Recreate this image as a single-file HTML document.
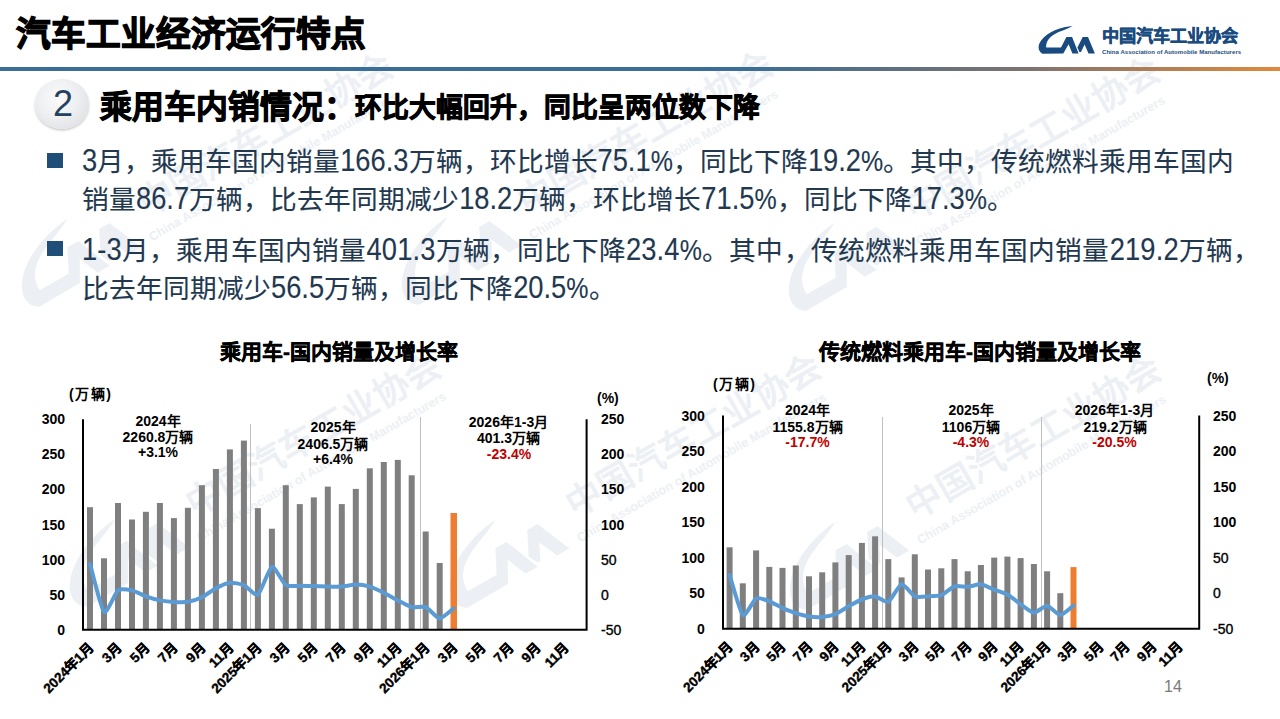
<!DOCTYPE html>
<html lang="zh-CN">
<head>
<meta charset="utf-8">
<style>
html,body{margin:0;padding:0;}
body{width:1280px;height:719px;position:relative;overflow:hidden;background:#fff;font-family:"Liberation Sans",sans-serif;}
.abs{position:absolute;white-space:nowrap;}
#title{left:16px;top:13.5px;font-size:34.6px;font-weight:bold;color:#000;line-height:40px;-webkit-text-stroke:1.3px #000;}
#rule{left:0;top:67px;width:1280px;height:3.5px;background:linear-gradient(90deg,#3a6e96 0%,#3a6e96 58%,#7d7270 80%,#e08a3c 100%);}
#orgname{left:1102px;top:25.5px;font-size:17.2px;font-weight:bold;color:#1a4b80;-webkit-text-stroke:0.5px #1a4b80;line-height:20px;}
#orgen{left:1102px;top:48px;font-size:6px;font-weight:bold;color:#1a4b80;line-height:8px;letter-spacing:0.05px;}
#circ{left:35px;top:79px;width:54px;height:49.5px;border-radius:50%;background:radial-gradient(ellipse at 42% 38%,#fbfbfc 0%,#eeeff1 45%,#e2e3e6 75%,#c3c6ca 100%);box-shadow:0 1.5px 2.5px rgba(0,0,0,0.22);}
#num{left:36px;top:79.5px;width:54px;height:48px;text-align:center;font-size:36px;line-height:48px;color:#24425f;}
#h2a{left:100px;top:84.5px;font-size:31.8px;font-weight:bold;color:#000;line-height:44px;-webkit-text-stroke:1px #000;}
#h2b{left:355px;top:88px;font-size:26.8px;font-weight:bold;color:#000;line-height:40px;-webkit-text-stroke:0.9px #000;}
.bul{width:16px;height:15px;background:#1f4e79;}
.tx{font-size:26.67px;color:#22384f;line-height:36px;-webkit-text-stroke:0.1px #22384f;}
.l{font-size:27.3px;display:inline-block;transform:scaleY(1.17);transform-origin:50% 76%;}
.p{font-size:25px;display:inline-block;transform:scaleY(1.17);transform-origin:50% 76%;}
.tk{font-family:"Liberation Sans",sans-serif;font-size:14px;font-weight:bold;fill:#000;}
.xl{font-family:"Liberation Sans",sans-serif;font-size:13.5px;font-weight:bold;fill:#000;stroke:#000;stroke-width:0.4px;}
.ct{font-family:"Liberation Sans",sans-serif;font-size:21px;font-weight:bold;fill:#000;stroke:#000;stroke-width:0.45px;}
.an{font-family:"Liberation Sans",sans-serif;font-size:14px;font-weight:bold;fill:#000;}
.tkn{font-weight:normal;stroke:#000;stroke-width:0.35px;}
.ar{fill:#c00000;}
#pg{left:1164px;top:678px;font-size:16px;color:#7a7a7a;}
svg{position:absolute;left:0;top:0;}
</style>
</head>
<body>
<svg width="1280" height="719" style="z-index:0;font-family:'Liberation Sans',sans-serif" fill="#ecf0f4">
<g transform="translate(150,238) rotate(-30)"><text x="8" y="-20" style="font-size:35.5px;font-weight:bold">中国汽车工业协会</text><text x="0" y="4" style="font-size:12.5px;font-weight:bold">China Association of Automobile Manufacturers</text><g transform="translate(-62,-58) scale(2.25) translate(-1072.7,-26.1)"><path d="M1072.7,26.1 C1062,26.8 1048,31.5 1041.5,40 C1037.5,45 1037.5,51 1042.4,53.7 L1063.3,53.6 L1068.6,44.3 L1072.4,53.6 L1078.6,53.6 L1072.1,37.1 L1066.4,37.1 L1061,47.5 L1046.2,47.5 C1045.8,42 1049,37.5 1054,34.5 C1060,31 1067,29.5 1072.7,26.1 Z"/><path d="M1077.4,47.6 L1082.7,37.1 L1088,37.1 L1094.9,53.6 L1088.5,53.6 L1084.6,44.6 L1081,51.9 L1079.4,51.9 Z"/></g></g>
<g transform="translate(530,236) rotate(-30)"><text x="8" y="-20" style="font-size:35.5px;font-weight:bold">中国汽车工业协会</text><text x="0" y="4" style="font-size:12.5px;font-weight:bold">China Association of Automobile Manufacturers</text><g transform="translate(-62,-58) scale(2.25) translate(-1072.7,-26.1)"><path d="M1072.7,26.1 C1062,26.8 1048,31.5 1041.5,40 C1037.5,45 1037.5,51 1042.4,53.7 L1063.3,53.6 L1068.6,44.3 L1072.4,53.6 L1078.6,53.6 L1072.1,37.1 L1066.4,37.1 L1061,47.5 L1046.2,47.5 C1045.8,42 1049,37.5 1054,34.5 C1060,31 1067,29.5 1072.7,26.1 Z"/><path d="M1077.4,47.6 L1082.7,37.1 L1088,37.1 L1094.9,53.6 L1088.5,53.6 L1084.6,44.6 L1081,51.9 L1079.4,51.9 Z"/></g></g>
<g transform="translate(917,242) rotate(-30)"><text x="8" y="-20" style="font-size:35.5px;font-weight:bold">中国汽车工业协会</text><text x="0" y="4" style="font-size:12.5px;font-weight:bold">China Association of Automobile Manufacturers</text><g transform="translate(-62,-58) scale(2.25) translate(-1072.7,-26.1)"><path d="M1072.7,26.1 C1062,26.8 1048,31.5 1041.5,40 C1037.5,45 1037.5,51 1042.4,53.7 L1063.3,53.6 L1068.6,44.3 L1072.4,53.6 L1078.6,53.6 L1072.1,37.1 L1066.4,37.1 L1061,47.5 L1046.2,47.5 C1045.8,42 1049,37.5 1054,34.5 C1060,31 1067,29.5 1072.7,26.1 Z"/><path d="M1077.4,47.6 L1082.7,37.1 L1088,37.1 L1094.9,53.6 L1088.5,53.6 L1084.6,44.6 L1081,51.9 L1079.4,51.9 Z"/></g></g>
<g transform="translate(198,538) rotate(-30)"><text x="8" y="-20" style="font-size:35.5px;font-weight:bold">中国汽车工业协会</text><text x="0" y="4" style="font-size:12.5px;font-weight:bold">China Association of Automobile Manufacturers</text><g transform="translate(-62,-58) scale(2.25) translate(-1072.7,-26.1)"><path d="M1072.7,26.1 C1062,26.8 1048,31.5 1041.5,40 C1037.5,45 1037.5,51 1042.4,53.7 L1063.3,53.6 L1068.6,44.3 L1072.4,53.6 L1078.6,53.6 L1072.1,37.1 L1066.4,37.1 L1061,47.5 L1046.2,47.5 C1045.8,42 1049,37.5 1054,34.5 C1060,31 1067,29.5 1072.7,26.1 Z"/><path d="M1077.4,47.6 L1082.7,37.1 L1088,37.1 L1094.9,53.6 L1088.5,53.6 L1084.6,44.6 L1081,51.9 L1079.4,51.9 Z"/></g></g>
<g transform="translate(578,539) rotate(-30)"><text x="8" y="-20" style="font-size:35.5px;font-weight:bold">中国汽车工业协会</text><text x="0" y="4" style="font-size:12.5px;font-weight:bold">China Association of Automobile Manufacturers</text><g transform="translate(-62,-58) scale(2.25) translate(-1072.7,-26.1)"><path d="M1072.7,26.1 C1062,26.8 1048,31.5 1041.5,40 C1037.5,45 1037.5,51 1042.4,53.7 L1063.3,53.6 L1068.6,44.3 L1072.4,53.6 L1078.6,53.6 L1072.1,37.1 L1066.4,37.1 L1061,47.5 L1046.2,47.5 C1045.8,42 1049,37.5 1054,34.5 C1060,31 1067,29.5 1072.7,26.1 Z"/><path d="M1077.4,47.6 L1082.7,37.1 L1088,37.1 L1094.9,53.6 L1088.5,53.6 L1084.6,44.6 L1081,51.9 L1079.4,51.9 Z"/></g></g>
<g transform="translate(918,541) rotate(-30)"><text x="8" y="-20" style="font-size:35.5px;font-weight:bold">中国汽车工业协会</text><text x="0" y="4" style="font-size:12.5px;font-weight:bold">China Association of Automobile Manufacturers</text><g transform="translate(-62,-58) scale(2.25) translate(-1072.7,-26.1)"><path d="M1072.7,26.1 C1062,26.8 1048,31.5 1041.5,40 C1037.5,45 1037.5,51 1042.4,53.7 L1063.3,53.6 L1068.6,44.3 L1072.4,53.6 L1078.6,53.6 L1072.1,37.1 L1066.4,37.1 L1061,47.5 L1046.2,47.5 C1045.8,42 1049,37.5 1054,34.5 C1060,31 1067,29.5 1072.7,26.1 Z"/><path d="M1077.4,47.6 L1082.7,37.1 L1088,37.1 L1094.9,53.6 L1088.5,53.6 L1084.6,44.6 L1081,51.9 L1079.4,51.9 Z"/></g></g>
</svg>
<div id="title" class="abs">汽车工业经济运行特点</div>
<div id="rule" class="abs"></div>
<svg width="1280" height="719" style="z-index:1">
<path d="M1072.7,26.1 C1062,26.8 1048,31.5 1041.5,40 C1037.5,45 1037.5,51 1042.4,53.7 L1063.3,53.6 L1068.6,44.3 L1072.4,53.6 L1078.6,53.6 L1072.1,37.1 L1066.4,37.1 L1061,47.5 L1046.2,47.5 C1045.8,42 1049,37.5 1054,34.5 C1060,31 1067,29.5 1072.7,26.1 Z" fill="#1a4b80"/>
<path d="M1077.4,47.6 L1082.7,37.1 L1088,37.1 L1094.9,53.6 L1088.5,53.6 L1084.6,44.6 L1081,51.9 L1079.4,51.9 Z" fill="#1a4b80"/>
</svg>
<div id="orgname" class="abs">中国汽车工业协会</div>
<div id="orgen" class="abs">China Association of Automobile Manufacturers</div>
<div id="circ" class="abs"></div>
<div id="num" class="abs">2</div>
<div id="h2a" class="abs">乘用车内销情况：</div>
<div id="h2b" class="abs">环比大幅回升，同比呈两位数下降</div>
<div class="abs bul" style="left:47px;top:153px"></div>
<div class="abs tx" style="left:82px;top:144px"><span class="l">3</span>月，乘用车国内销量<span class="l">166.3</span>万辆，环比增长<span class="l">75.1</span><span class="p">%</span>，同比下降<span class="l">19.2</span><span class="p">%</span>。其中，传统燃料乘用车国内</div>
<div class="abs tx" style="left:82px;top:182px">销量<span class="l">86.7</span>万辆，比去年同期减少<span class="l">18.2</span>万辆，环比增长<span class="l">71.5</span><span class="p">%</span>，同比下降<span class="l">17.3</span><span class="p">%</span>。</div>
<div class="abs bul" style="left:47px;top:241px"></div>
<div class="abs tx" style="left:82px;top:232.5px;letter-spacing:0.17px"><span class="l">1-3</span>月，乘用车国内销量<span class="l">401.3</span>万辆，同比下降<span class="l">23.4</span><span class="p">%</span>。其中，传统燃料乘用车国内销量<span class="l">219.2</span>万辆，</div>
<div class="abs tx" style="left:82px;top:270.5px">比去年同期减少<span class="l">56.5</span>万辆，同比下降<span class="l">20.5</span><span class="p">%</span>。</div>
<svg width="1280" height="719" style="z-index:2">
<text x="339" y="359" text-anchor="middle" class="ct">乘用车-国内销量及增长率</text>
<text x="980" y="359" text-anchor="middle" class="ct">传统燃料乘用车-国内销量及增长率</text>
<text x="69" y="399" class="an" style="letter-spacing:1.5px">(万辆)</text>
<text x="597" y="403" class="an">(%)</text>
<text x="713" y="389" class="an" style="letter-spacing:1.5px">(万辆)</text>
<text x="1207" y="383" class="an">(%)</text>
<text x="158" y="426" text-anchor="middle" class="an">2024年</text>
<text x="158" y="441.5" text-anchor="middle" class="an">2260.8万辆</text>
<text x="158" y="456.5" text-anchor="middle" class="an">+3.1%</text>
<text x="333" y="431.5" text-anchor="middle" class="an">2025年</text>
<text x="333" y="448.5" text-anchor="middle" class="an">2406.5万辆</text>
<text x="333" y="463.5" text-anchor="middle" class="an">+6.4%</text>
<text x="508.5" y="426.5" text-anchor="middle" class="an">2026年1-3月</text>
<text x="508.5" y="442.5" text-anchor="middle" class="an">401.3万辆</text>
<text x="509" y="458.5" text-anchor="middle" class="an ar">-23.4%</text>
<text x="807.5" y="415" text-anchor="middle" class="an">2024年</text>
<text x="807.5" y="431.5" text-anchor="middle" class="an">1155.8万辆</text>
<text x="807.5" y="447" text-anchor="middle" class="an ar">-17.7%</text>
<text x="971" y="415" text-anchor="middle" class="an">2025年</text>
<text x="971" y="431.5" text-anchor="middle" class="an">1106万辆</text>
<text x="971" y="447" text-anchor="middle" class="an ar">-4.3%</text>
<text x="1114.5" y="415" text-anchor="middle" class="an">2026年1-3月</text>
<text x="1115" y="431.5" text-anchor="middle" class="an">219.2万辆</text>
<text x="1114.5" y="447" text-anchor="middle" class="an ar">-20.5%</text>
<rect x="87.0" y="507.2" width="6.0" height="122.5" fill="#7f7f7f"/>
<rect x="101.0" y="558.3" width="6.0" height="71.4" fill="#7f7f7f"/>
<rect x="115.0" y="503.0" width="6.0" height="126.7" fill="#7f7f7f"/>
<rect x="129.0" y="519.5" width="6.0" height="110.2" fill="#7f7f7f"/>
<rect x="142.9" y="511.8" width="6.0" height="117.9" fill="#7f7f7f"/>
<rect x="156.9" y="503.0" width="6.0" height="126.7" fill="#7f7f7f"/>
<rect x="170.9" y="518.1" width="6.0" height="111.6" fill="#7f7f7f"/>
<rect x="184.9" y="507.8" width="6.0" height="121.9" fill="#7f7f7f"/>
<rect x="198.9" y="485.2" width="6.0" height="144.5" fill="#7f7f7f"/>
<rect x="212.9" y="469.0" width="6.0" height="160.7" fill="#7f7f7f"/>
<rect x="226.9" y="449.4" width="6.0" height="180.3" fill="#7f7f7f"/>
<rect x="240.9" y="440.6" width="6.0" height="189.1" fill="#7f7f7f"/>
<rect x="254.9" y="508.1" width="6.0" height="121.6" fill="#7f7f7f"/>
<rect x="268.9" y="528.7" width="6.0" height="101.0" fill="#7f7f7f"/>
<rect x="282.8" y="485.2" width="6.0" height="144.5" fill="#7f7f7f"/>
<rect x="296.8" y="504.1" width="6.0" height="125.6" fill="#7f7f7f"/>
<rect x="310.8" y="497.4" width="6.0" height="132.3" fill="#7f7f7f"/>
<rect x="324.8" y="486.6" width="6.0" height="143.1" fill="#7f7f7f"/>
<rect x="338.8" y="504.1" width="6.0" height="125.6" fill="#7f7f7f"/>
<rect x="352.8" y="488.9" width="6.0" height="140.8" fill="#7f7f7f"/>
<rect x="366.8" y="468.3" width="6.0" height="161.4" fill="#7f7f7f"/>
<rect x="380.8" y="462.0" width="6.0" height="167.7" fill="#7f7f7f"/>
<rect x="394.8" y="459.9" width="6.0" height="169.8" fill="#7f7f7f"/>
<rect x="408.7" y="475.3" width="6.0" height="154.4" fill="#7f7f7f"/>
<rect x="422.7" y="531.5" width="6.0" height="98.2" fill="#7f7f7f"/>
<rect x="436.7" y="563.0" width="6.0" height="66.7" fill="#7f7f7f"/>
<rect x="450.5" y="513.0" width="6.5" height="116.7" fill="#ed7d31"/>
<line x1="250.5" y1="424.0" x2="250.5" y2="629.7" stroke="#c0c0c0" stroke-width="1"/>
<line x1="420.5" y1="417.0" x2="420.5" y2="629.7" stroke="#c0c0c0" stroke-width="1"/>
<path d="M90.0,563.8 C91.4,568.6 101.2,609.3 104.0,611.9 C106.8,614.6 115.2,592.5 118.0,590.3 C120.8,588.2 129.2,589.8 132.0,590.4 C134.8,591.0 143.2,595.4 145.9,596.4 C148.7,597.4 157.1,599.8 159.9,600.4 C162.7,600.9 171.1,601.8 173.9,601.9 C176.7,602.1 185.1,602.3 187.9,601.8 C190.7,601.4 199.1,598.7 201.9,597.3 C204.7,595.9 213.1,589.6 215.9,588.2 C218.7,586.7 227.1,583.0 229.9,582.7 C232.7,582.4 241.1,584.0 243.9,585.1 C246.7,586.3 255.1,596.4 257.9,594.6 C260.7,592.8 269.1,567.8 271.9,566.8 C274.6,565.9 283.0,583.2 285.8,585.1 C288.6,587.0 297.0,585.7 299.8,585.8 C302.6,585.9 311.0,586.0 313.8,586.1 C316.6,586.1 325.0,586.6 327.8,586.6 C330.6,586.7 339.0,586.8 341.8,586.6 C344.6,586.4 353.0,584.6 355.8,584.6 C358.6,584.6 367.0,585.8 369.8,586.6 C372.6,587.4 381.0,591.4 383.8,592.8 C386.6,594.2 395.0,598.9 397.8,600.4 C400.5,601.8 408.9,606.4 411.7,607.1 C414.5,607.8 422.9,606.0 425.7,607.1 C428.5,608.2 436.9,618.3 439.7,618.5 C442.5,618.6 452.3,609.4 453.7,608.4" fill="none" stroke="#5b9bd5" stroke-width="4" stroke-linejoin="round" stroke-linecap="round"/>
<path d="M83.0,419.2 V629.7 H586.6 V419.2" fill="none" stroke="#000" stroke-width="2"/>
<text x="65.0" y="634.7" text-anchor="end" class="tk">0</text>
<text x="601.0" y="634.7" class="tk tkn">-50</text>
<text x="65.0" y="599.6" text-anchor="end" class="tk">50</text>
<text x="601.0" y="599.6" class="tk tkn">0</text>
<text x="65.0" y="564.5" text-anchor="end" class="tk">100</text>
<text x="601.0" y="564.5" class="tk tkn">50</text>
<text x="65.0" y="529.5" text-anchor="end" class="tk">150</text>
<text x="601.0" y="529.5" class="tk">100</text>
<text x="65.0" y="494.4" text-anchor="end" class="tk">200</text>
<text x="601.0" y="494.4" class="tk">150</text>
<text x="65.0" y="459.3" text-anchor="end" class="tk">250</text>
<text x="601.0" y="459.3" class="tk">200</text>
<text x="65.0" y="424.2" text-anchor="end" class="tk">300</text>
<text x="601.0" y="424.2" class="tk">250</text>
<text transform="translate(94.0,649.0) rotate(-45)" text-anchor="end" class="xl">2024年1月</text>
<text transform="translate(122.0,649.0) rotate(-45)" text-anchor="end" class="xl">3月</text>
<text transform="translate(149.9,649.0) rotate(-45)" text-anchor="end" class="xl">5月</text>
<text transform="translate(177.9,649.0) rotate(-45)" text-anchor="end" class="xl">7月</text>
<text transform="translate(205.9,649.0) rotate(-45)" text-anchor="end" class="xl">9月</text>
<text transform="translate(233.9,649.0) rotate(-45)" text-anchor="end" class="xl">11月</text>
<text transform="translate(261.9,649.0) rotate(-45)" text-anchor="end" class="xl">2025年1月</text>
<text transform="translate(289.8,649.0) rotate(-45)" text-anchor="end" class="xl">3月</text>
<text transform="translate(317.8,649.0) rotate(-45)" text-anchor="end" class="xl">5月</text>
<text transform="translate(345.8,649.0) rotate(-45)" text-anchor="end" class="xl">7月</text>
<text transform="translate(373.8,649.0) rotate(-45)" text-anchor="end" class="xl">9月</text>
<text transform="translate(401.8,649.0) rotate(-45)" text-anchor="end" class="xl">11月</text>
<text transform="translate(429.7,649.0) rotate(-45)" text-anchor="end" class="xl">2026年1月</text>
<text transform="translate(457.7,649.0) rotate(-45)" text-anchor="end" class="xl">3月</text>
<text transform="translate(485.7,649.0) rotate(-45)" text-anchor="end" class="xl">5月</text>
<text transform="translate(513.7,649.0) rotate(-45)" text-anchor="end" class="xl">7月</text>
<text transform="translate(541.6,649.0) rotate(-45)" text-anchor="end" class="xl">9月</text>
<text transform="translate(569.6,649.0) rotate(-45)" text-anchor="end" class="xl">11月</text>
<rect x="726.6" y="547.3" width="6.0" height="81.4" fill="#7f7f7f"/>
<rect x="739.8" y="583.3" width="6.0" height="45.4" fill="#7f7f7f"/>
<rect x="753.1" y="550.4" width="6.0" height="78.3" fill="#7f7f7f"/>
<rect x="766.3" y="566.9" width="6.0" height="61.8" fill="#7f7f7f"/>
<rect x="779.5" y="567.9" width="6.0" height="60.8" fill="#7f7f7f"/>
<rect x="792.8" y="565.5" width="6.0" height="63.2" fill="#7f7f7f"/>
<rect x="806.0" y="576.3" width="6.0" height="52.4" fill="#7f7f7f"/>
<rect x="819.2" y="572.3" width="6.0" height="56.4" fill="#7f7f7f"/>
<rect x="832.4" y="562.4" width="6.0" height="66.3" fill="#7f7f7f"/>
<rect x="845.7" y="555.1" width="6.0" height="73.6" fill="#7f7f7f"/>
<rect x="858.9" y="542.9" width="6.0" height="85.8" fill="#7f7f7f"/>
<rect x="872.1" y="536.3" width="6.0" height="92.4" fill="#7f7f7f"/>
<rect x="885.3" y="559.1" width="6.0" height="69.6" fill="#7f7f7f"/>
<rect x="898.6" y="577.4" width="6.0" height="51.3" fill="#7f7f7f"/>
<rect x="911.8" y="554.3" width="6.0" height="74.4" fill="#7f7f7f"/>
<rect x="925.0" y="569.5" width="6.0" height="59.2" fill="#7f7f7f"/>
<rect x="938.3" y="568.3" width="6.0" height="60.4" fill="#7f7f7f"/>
<rect x="951.5" y="559.1" width="6.0" height="69.6" fill="#7f7f7f"/>
<rect x="964.7" y="571.3" width="6.0" height="57.4" fill="#7f7f7f"/>
<rect x="977.9" y="565.0" width="6.0" height="63.7" fill="#7f7f7f"/>
<rect x="991.2" y="557.6" width="6.0" height="71.1" fill="#7f7f7f"/>
<rect x="1004.4" y="556.6" width="6.0" height="72.1" fill="#7f7f7f"/>
<rect x="1017.6" y="558.1" width="6.0" height="70.6" fill="#7f7f7f"/>
<rect x="1030.9" y="564.0" width="6.0" height="64.7" fill="#7f7f7f"/>
<rect x="1044.1" y="571.3" width="6.0" height="57.4" fill="#7f7f7f"/>
<rect x="1057.3" y="593.2" width="6.0" height="35.5" fill="#7f7f7f"/>
<rect x="1070.5" y="567.1" width="6.0" height="61.6" fill="#ed7d31"/>
<line x1="882.5" y1="417.0" x2="882.5" y2="628.7" stroke="#c0c0c0" stroke-width="1"/>
<line x1="1041.5" y1="417.0" x2="1041.5" y2="628.7" stroke="#c0c0c0" stroke-width="1"/>
<path d="M729.6,575.0 C730.9,579.0 740.2,612.6 742.8,615.0 C745.5,617.3 753.4,599.9 756.1,598.5 C758.7,597.1 766.7,600.4 769.3,601.3 C771.9,602.3 779.9,606.9 782.5,608.1 C785.2,609.3 793.1,612.2 795.8,613.1 C798.4,613.9 806.3,616.0 809.0,616.4 C811.6,616.8 819.6,617.2 822.2,617.0 C824.9,616.7 832.8,615.1 835.4,614.1 C838.1,613.0 846.0,607.7 848.7,606.2 C851.3,604.8 859.2,600.5 861.9,599.5 C864.5,598.5 872.5,596.2 875.1,596.4 C877.8,596.7 885.7,603.1 888.3,601.8 C891.0,600.6 898.9,584.8 901.6,584.3 C904.2,583.7 912.2,595.2 914.8,596.4 C917.4,597.7 925.4,596.6 928.0,596.4 C930.7,596.3 938.6,596.2 941.3,595.2 C943.9,594.1 951.8,587.2 954.5,586.3 C957.1,585.5 965.1,587.0 967.7,586.8 C970.4,586.6 978.3,584.0 980.9,584.3 C983.6,584.6 991.5,588.7 994.2,589.7 C996.8,590.7 1004.8,593.1 1007.4,594.6 C1010.0,596.0 1018.0,602.4 1020.6,604.3 C1023.3,606.1 1031.2,612.6 1033.9,612.7 C1036.5,612.9 1044.4,605.5 1047.1,605.7 C1049.7,606.0 1057.7,615.0 1060.3,615.0 C1063.0,615.0 1072.2,606.4 1073.5,605.5" fill="none" stroke="#5b9bd5" stroke-width="4" stroke-linejoin="round" stroke-linecap="round"/>
<path d="M723.0,415.5 V628.7 H1199.2 V415.5" fill="none" stroke="#000" stroke-width="2"/>
<text x="704.8" y="633.7" text-anchor="end" class="tk">0</text>
<text x="1213.0" y="633.7" class="tk tkn">-50</text>
<text x="704.8" y="598.2" text-anchor="end" class="tk">50</text>
<text x="1213.0" y="598.2" class="tk tkn">0</text>
<text x="704.8" y="562.6" text-anchor="end" class="tk">100</text>
<text x="1213.0" y="562.6" class="tk tkn">50</text>
<text x="704.8" y="527.1" text-anchor="end" class="tk">150</text>
<text x="1213.0" y="527.1" class="tk">100</text>
<text x="704.8" y="491.6" text-anchor="end" class="tk">200</text>
<text x="1213.0" y="491.6" class="tk">150</text>
<text x="704.8" y="456.0" text-anchor="end" class="tk">250</text>
<text x="1213.0" y="456.0" class="tk">200</text>
<text x="704.8" y="420.5" text-anchor="end" class="tk">300</text>
<text x="1213.0" y="420.5" class="tk">250</text>
<text transform="translate(733.6,648.0) rotate(-45)" text-anchor="end" class="xl">2024年1月</text>
<text transform="translate(760.1,648.0) rotate(-45)" text-anchor="end" class="xl">3月</text>
<text transform="translate(786.5,648.0) rotate(-45)" text-anchor="end" class="xl">5月</text>
<text transform="translate(813.0,648.0) rotate(-45)" text-anchor="end" class="xl">7月</text>
<text transform="translate(839.4,648.0) rotate(-45)" text-anchor="end" class="xl">9月</text>
<text transform="translate(865.9,648.0) rotate(-45)" text-anchor="end" class="xl">11月</text>
<text transform="translate(892.3,648.0) rotate(-45)" text-anchor="end" class="xl">2025年1月</text>
<text transform="translate(918.8,648.0) rotate(-45)" text-anchor="end" class="xl">3月</text>
<text transform="translate(945.3,648.0) rotate(-45)" text-anchor="end" class="xl">5月</text>
<text transform="translate(971.7,648.0) rotate(-45)" text-anchor="end" class="xl">7月</text>
<text transform="translate(998.2,648.0) rotate(-45)" text-anchor="end" class="xl">9月</text>
<text transform="translate(1024.6,648.0) rotate(-45)" text-anchor="end" class="xl">11月</text>
<text transform="translate(1051.1,648.0) rotate(-45)" text-anchor="end" class="xl">2026年1月</text>
<text transform="translate(1077.5,648.0) rotate(-45)" text-anchor="end" class="xl">3月</text>
<text transform="translate(1104.0,648.0) rotate(-45)" text-anchor="end" class="xl">5月</text>
<text transform="translate(1130.4,648.0) rotate(-45)" text-anchor="end" class="xl">7月</text>
<text transform="translate(1156.9,648.0) rotate(-45)" text-anchor="end" class="xl">9月</text>
<text transform="translate(1183.4,648.0) rotate(-45)" text-anchor="end" class="xl">11月</text>
</svg>
<div id="pg" class="abs">14</div>
</body>
</html>
